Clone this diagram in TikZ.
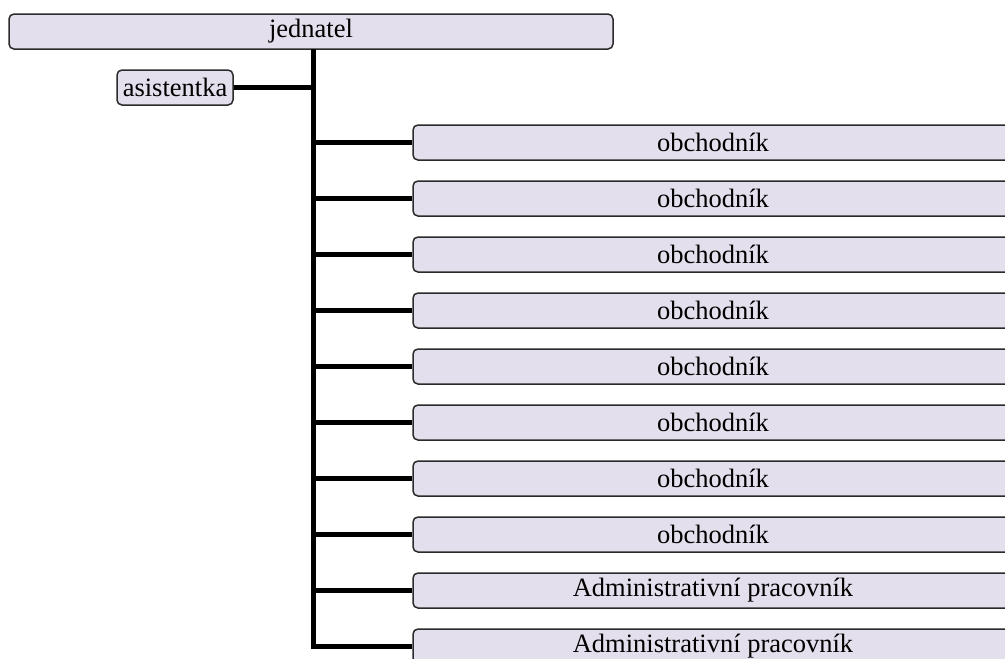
\documentclass[tikz,border=0pt]{standalone}
\usepackage{fontspec}
\setmainfont{Liberation Serif}
\definecolor{boxfill}{HTML}{E4DFEC}
\definecolor{boxline}{HTML}{2B2B2B}
\begin{document}
\begin{tikzpicture}[x=1pt,y=-1pt,
	post/.style={draw=boxline,line width=1.5pt,fill=boxfill,rounded corners=5pt,
		minimum height=35pt,inner sep=1pt,font=\fontsize{26.5}{30}\selectfont},
	link/.style={line width=5pt}]
	\useasboundingbox (0,0) rectangle (1005,659);
	\clip (0,0) rectangle (1005,659);
	\node[post,minimum width=604pt] (jednatel) at (311,31.5) {jednatel};
	\node[post,minimum width=116pt] (asistentka) at (175,87.5) {asistentka};
	\coordinate (trunk) at (313,49);
	\draw[link] (asistentka.east) -- (trunk |- asistentka.east);
	\foreach \i/\name in {0/obchodník,1/obchodník,2/obchodník,3/obchodník,
		4/obchodník,5/obchodník,6/obchodník,7/obchodník,
		8/Administrativní pracovník,9/Administrativní pracovník}{
		\node[post,minimum width=600pt] (pos\i) at (713,142.5+56*\i) {\name};
		\draw[link] (trunk) |- (pos\i.west);
	}
\end{tikzpicture}
\end{document}
